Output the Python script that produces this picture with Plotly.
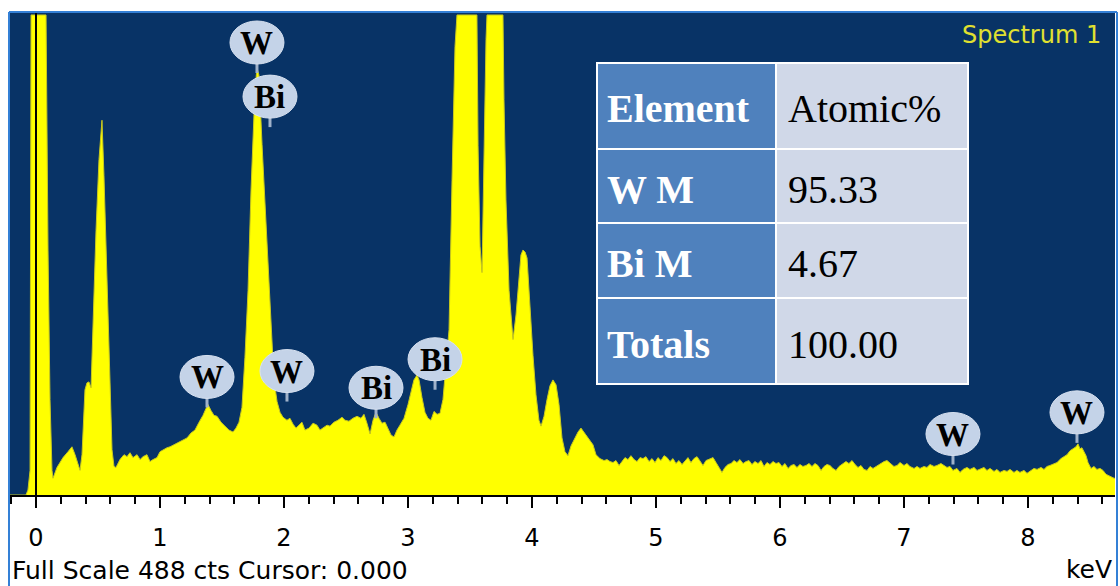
import plotly.graph_objects as go

# ---- spectrum data (energy in keV, intensity in counts) ----
energy_kev = [
    -0.210, -0.081, -0.065, -0.048, -0.040, 0.081, 0.097, 0.113, 0.129, 0.137,
    0.169, 0.218, 0.258, 0.290, 0.315, 0.339, 0.355, 0.371, 0.395, 0.411,
    0.427, 0.444, 0.460, 0.484, 0.508, 0.532, 0.548, 0.565, 0.581, 0.597,
    0.613, 0.629, 0.645, 0.677, 0.710, 0.734, 0.758, 0.782, 0.815, 0.839,
    0.863, 0.895, 0.919, 0.944, 0.976, 1.000, 1.024, 1.056, 1.081, 1.113,
    1.145, 1.185, 1.218, 1.250, 1.282, 1.315, 1.347, 1.371, 1.387, 1.411,
    1.435, 1.460, 1.492, 1.524, 1.556, 1.589, 1.613, 1.637, 1.661, 1.685,
    1.710, 1.734, 1.750, 1.766, 1.782, 1.798, 1.823, 1.839, 1.855, 1.871,
    1.895, 1.919, 1.944, 1.968, 1.992, 2.024, 2.048, 2.073, 2.097, 2.121,
    2.145, 2.169, 2.202, 2.234, 2.266, 2.290, 2.315, 2.347, 2.371, 2.403,
    2.435, 2.468, 2.492, 2.524, 2.556, 2.589, 2.621, 2.645, 2.669, 2.694,
    2.718, 2.742, 2.766, 2.790, 2.815, 2.839, 2.863, 2.887, 2.911, 2.935,
    2.968, 3.000, 3.024, 3.048, 3.073, 3.089, 3.113, 3.137, 3.161, 3.185,
    3.210, 3.234, 3.258, 3.282, 3.306, 3.331, 3.355, 3.379, 3.395, 3.556,
    3.565, 3.581, 3.597, 3.613, 3.629, 3.637, 3.766, 3.774, 3.790, 3.815,
    3.847, 3.871, 3.895, 3.911, 3.927, 3.944, 3.960, 3.984, 4.008, 4.032,
    4.056, 4.073, 4.097, 4.121, 4.145, 4.169, 4.194, 4.218, 4.242, 4.266,
    4.290, 4.315, 4.339, 4.371, 4.395, 4.419, 4.444, 4.468, 4.492, 4.516,
    4.548, 4.581, 4.605, 4.629, 4.653, 4.677, 4.702, 4.726, 4.750, 4.774,
    4.798, 4.823, 4.847, 4.871, 4.895, 4.919, 4.944, 4.968, 4.992, 5.016,
    5.040, 5.065, 5.089, 5.113, 5.137, 5.161, 5.185, 5.210, 5.234, 5.258,
    5.282, 5.306, 5.331, 5.355, 5.379, 5.403, 5.435, 5.460, 5.484, 5.508,
    5.532, 5.556, 5.581, 5.605, 5.629, 5.653, 5.677, 5.702, 5.726, 5.750,
    5.774, 5.798, 5.823, 5.847, 5.871, 5.895, 5.919, 5.944, 5.968, 5.992,
    6.016, 6.040, 6.065, 6.089, 6.113, 6.137, 6.161, 6.185, 6.210, 6.234,
    6.258, 6.282, 6.306, 6.331, 6.355, 6.379, 6.403, 6.427, 6.452, 6.476,
    6.500, 6.532, 6.556, 6.581, 6.605, 6.629, 6.653, 6.677, 6.702, 6.726,
    6.750, 6.774, 6.806, 6.839, 6.863, 6.887, 6.919, 6.944, 6.968, 7.000,
    7.024, 7.048, 7.081, 7.105, 7.129, 7.161, 7.185, 7.210, 7.242, 7.266,
    7.298, 7.323, 7.347, 7.371, 7.395, 7.427, 7.452, 7.476, 7.508, 7.532,
    7.565, 7.589, 7.613, 7.645, 7.669, 7.694, 7.726, 7.750, 7.774, 7.806,
    7.831, 7.855, 7.887, 7.911, 7.935, 7.968, 7.992, 8.016, 8.048, 8.073,
    8.105, 8.129, 8.153, 8.177, 8.210, 8.234, 8.266, 8.290, 8.315, 8.339,
    8.363, 8.387, 8.403, 8.419, 8.435, 8.452, 8.468, 8.484, 8.508, 8.532,
    8.556, 8.581, 8.605, 8.629, 8.661, 8.694, 8.718,
]
counts = [
    0, 0, 5, 25, 488, 488, 249, 97, 25, 17,
    28, 38, 44, 49, 41, 31, 25, 41, 107, 114,
    115, 109, 183, 269, 341, 381, 325, 254, 178, 97,
    46, 29, 28, 36, 41, 39, 43, 38, 41, 36,
    39, 41, 34, 36, 38, 44, 46, 48, 49, 51,
    53, 56, 58, 63, 66, 74, 81, 88, 92, 86,
    81, 80, 74, 70, 66, 64, 68, 74, 89, 140,
    208, 310, 371, 412, 434, 427, 356, 315, 275, 226,
    168, 117, 95, 84, 79, 76, 78, 72, 68, 71,
    74, 66, 68, 73, 71, 66, 68, 71, 70, 74,
    76, 79, 76, 75, 78, 80, 78, 82, 73, 62,
    76, 84, 78, 73, 74, 68, 61, 59, 66, 71,
    78, 92, 104, 117, 122, 117, 99, 84, 78, 76,
    85, 82, 83, 97, 132, 168, 320, 456, 488, 488,
    355, 253, 226, 351, 463, 488, 488, 402, 300, 208,
    158, 183, 224, 244, 249, 247, 241, 185, 142, 102,
    76, 70, 80, 97, 111, 117, 112, 92, 58, 44,
    40, 50, 56, 64, 68, 64, 60, 56, 51, 41,
    37, 35, 36, 34, 33, 35, 30, 34, 38, 36,
    40, 36, 34, 38, 37, 39, 34, 37, 33, 38,
    35, 40, 38, 34, 37, 32, 35, 31, 35, 38,
    33, 37, 39, 34, 30, 35, 37, 38, 33, 28,
    23, 28, 31, 32, 35, 33, 36, 32, 34, 35,
    31, 34, 32, 35, 29, 33, 31, 34, 32, 33,
    29, 32, 27, 30, 31, 28, 31, 29, 30, 32,
    29, 32, 30, 25, 29, 31, 30, 27, 25, 29,
    31, 34, 32, 35, 31, 28, 30, 26, 25, 29,
    27, 29, 32, 34, 35, 32, 29, 30, 33, 30,
    32, 29, 27, 29, 27, 29, 28, 31, 29, 30,
    32, 30, 28, 29, 25, 27, 23, 26, 28, 26,
    28, 25, 26, 28, 25, 27, 24, 26, 23, 25,
    24, 26, 23, 25, 23, 25, 22, 24, 27, 26,
    28, 26, 29, 30, 32, 33, 37, 39, 41, 45,
    47, 49, 52, 47, 48, 44, 40, 33, 27, 29,
    26, 27, 25, 21, 19, 17, 17,
]

# ---- identified peaks ----
peak_labels = ["W", "Bi", "W", "W", "Bi", "Bi", "W", "W"]
peak_kev = [1.782, 1.887, 1.379, 2.024, 2.742, 3.218, 7.395, 8.395]
peak_counts = [429, 374, 89, 95, 78, 107, 31, 53]

# ---- quantification table ----
table_header = ["Element", "Atomic%"]
table_elements = ["W M", "Bi M", "Totals"]
table_atomic = ["95.33", "4.67", "100.00"]

# ---- axis / status info ----
x_ticks = [0, 1, 2, 3, 4, 5, 6, 7, 8]
spectrum_name = "Spectrum 1"
full_scale_cts = 488
cursor_kev = 0.0

# ---- page geometry ----
W, H = 1120, 586
ML, MR, MT, MB = 10, 5, 13, 91
PW, PH = W - ML - MR, H - MT - MB
AXIS_Y = H - MB


def paper_x(px):
    return (px - ML) / PW


def paper_y(py):
    return (AXIS_Y - py) / PH


BG_BLUE = "rgb(8,51,102)"
SPEC_YELLOW = "rgb(255,255,0)"
BUBBLE = "rgb(196,211,232)"
STEM = "rgb(160,178,202)"
FRAME = "rgb(52,128,214)"

fig = go.Figure()

fig.add_trace(go.Scatter(
    x=energy_kev, y=counts, mode="lines",
    line=dict(color="rgb(200,200,30)", width=1),
    fill="tozeroy", fillcolor=SPEC_YELLOW,
    hoverinfo="skip", showlegend=False,
))

shapes = []
annotations = []

# cursor marker
shapes.append(dict(type="line", xref="x", yref="paper", x0=cursor_kev, x1=cursor_kev,
                   y0=0, y1=1, line=dict(color="black", width=2), layer="above"))

# peak identification bubbles
for lab, k, c in zip(peak_labels, peak_kev, peak_counts):
    shapes.append(dict(type="line", xref="x", yref="y", xsizemode="pixel", ysizemode="pixel",
                       xanchor=k, yanchor=c, x0=0, x1=0, y0=0, y1=11,
                       line=dict(color=STEM, width=3)))
    shapes.append(dict(type="circle", xref="x", yref="y", xsizemode="pixel", ysizemode="pixel",
                       xanchor=k, yanchor=c, x0=-27, x1=27, y0=9, y1=52,
                       fillcolor=BUBBLE, line=dict(color="rgb(215,225,240)", width=1)))
    annotations.append(dict(x=k, y=c, xref="x", yref="y", yshift=30, showarrow=False,
                            text="<b>%s</b>" % lab, xanchor="center", yanchor="middle",
                            font=dict(family="Liberation Serif", size=33, color="black")))

# quantification table
row_edges = [63, 149, 223, 298, 384]
col_edges = [597, 776, 968]
rows = [table_header] + [[e, a] for e, a in zip(table_elements, table_atomic)]
for r, (left_txt, right_txt) in enumerate(rows):
    y0, y1 = paper_y(row_edges[r + 1]), paper_y(row_edges[r])
    for ci, fill in enumerate(["rgb(79,129,189)", "rgb(208,216,232)"]):
        shapes.append(dict(type="rect", xref="paper", yref="paper",
                           x0=paper_x(col_edges[ci]), x1=paper_x(col_edges[ci + 1]),
                           y0=y0, y1=y1, fillcolor=fill,
                           line=dict(color="white", width=2), layer="above"))
    yc = paper_y((row_edges[r] + row_edges[r + 1]) / 2 + 3)
    annotations.append(dict(x=paper_x(605), y=yc, xref="paper", yref="paper", showarrow=False,
                            xanchor="left", yanchor="middle", text="<b>%s</b>" % left_txt,
                            font=dict(family="Liberation Serif", size=40, color="white")))
    annotations.append(dict(x=paper_x(786), y=yc, xref="paper", yref="paper", showarrow=False,
                            xanchor="left", yanchor="middle", text=right_txt,
                            font=dict(family="Liberation Serif", size=40, color="black")))

# spectrum title
annotations.append(dict(x=paper_x(1103), y=paper_y(35), xref="paper", yref="paper",
                        showarrow=False, xanchor="right", yanchor="middle", text=spectrum_name,
                        font=dict(family="DejaVu Sans", size=24, color="rgb(224,224,48)")))

# status line and unit
annotations.append(dict(x=paper_x(10), y=paper_y(570), xref="paper", yref="paper",
                        showarrow=False, xanchor="left", yanchor="middle",
                        text="Full Scale %d cts Cursor: %.3f" % (full_scale_cts, cursor_kev),
                        font=dict(family="DejaVu Sans", size=25, color="black")))
annotations.append(dict(x=paper_x(1114), y=paper_y(569), xref="paper", yref="paper",
                        showarrow=False, xanchor="right", yanchor="middle", text="keV",
                        font=dict(family="DejaVu Sans", size=25, color="black")))

# panel frame
for (x0, y0, x1, y1) in [(9, 12, 9, H + 2), (9, 12, 1117, 12), (1117, 12, 1117, H + 2)]:
    shapes.append(dict(type="line", xref="paper", yref="paper",
                       x0=paper_x(x0), x1=paper_x(x1), y0=paper_y(y0), y1=paper_y(y1),
                       line=dict(color=FRAME, width=2), layer="above"))

x_left = (ML - 36) / 124.0
x_right = (W - MR - 36) / 124.0

fig.update_layout(
    width=W, height=H,
    margin=dict(l=ML, r=MR, t=MT, b=MB, pad=0),
    paper_bgcolor="white", plot_bgcolor=BG_BLUE,
    showlegend=False,
    shapes=shapes, annotations=annotations,
    xaxis=dict(
        range=[x_left, x_right], tickvals=x_ticks, ticktext=[str(t) for t in x_ticks],
        ticks="outside", ticklen=11, tickwidth=2, tickcolor="black",
        showline=True, linecolor="black", linewidth=2,
        showgrid=False, zeroline=False, ticklabelstandoff=9,
        tickfont=dict(family="DejaVu Sans", size=24, color="black"),
        minor=dict(dtick=0.2, tick0=0, ticks="outside", ticklen=7, tickwidth=2,
                   tickcolor="black", showgrid=False),
        fixedrange=True,
    ),
    yaxis=dict(range=[0, 490], visible=False, fixedrange=True),
)

fig.write_html("out.html")
